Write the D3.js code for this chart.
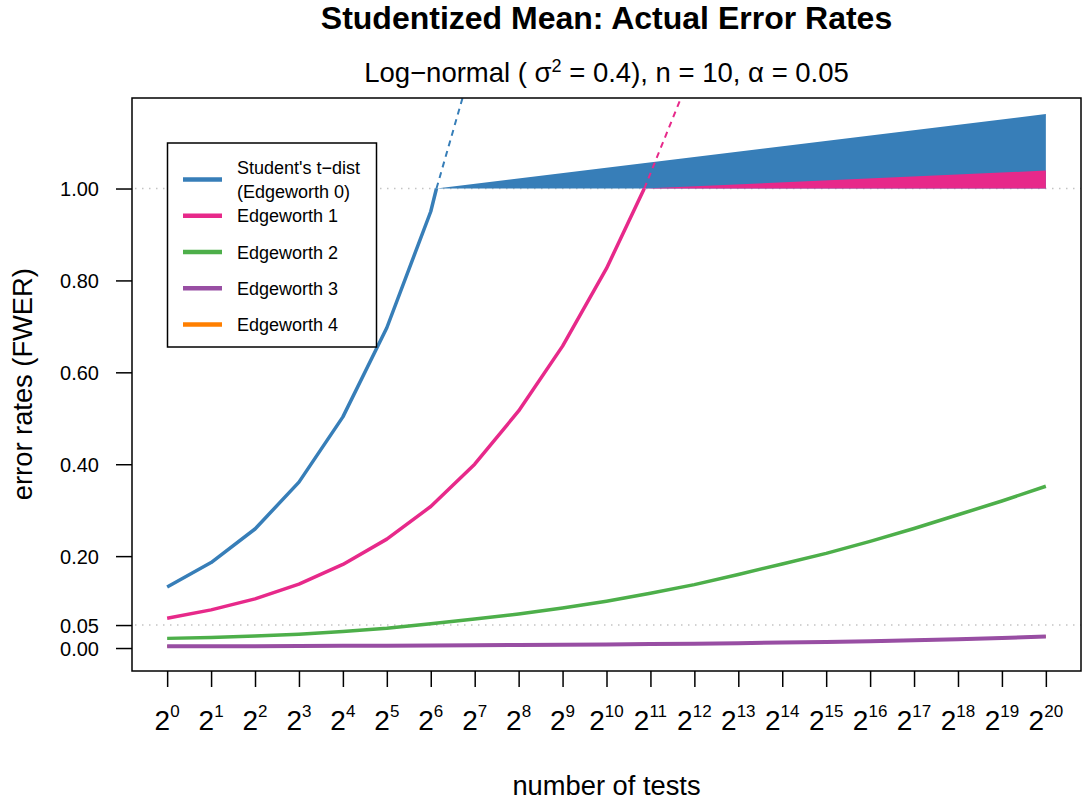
<!DOCTYPE html>
<html lang="en">
<head>
    <meta charset="utf-8">
    <title>Studentized Mean: Actual Error Rates</title>
    <script type="text/javascript" src="https://d3js.org/d3.v7.min.js"></script>
    <style>
        body { margin: 0; background: #fff; }
        text { font-family: "Liberation Sans", Arial, Helvetica, sans-serif; fill: #000; }
    </style>
</head>
<body>
    <div id="chart"></div>

    <script type="text/javascript">
        // exponents k of 2^k on the x axis
        const exponents = d3.range(0, 21);
        const yTicks = [0.00, 0.05, 0.20, 0.40, 0.60, 0.80, 1.00];
        const refLines = [0.05, 1.00];

        // Student's t / Edgeworth 0 (k = 0..6), then crosses 1.0
        const edge0 = [0.133, 0.186, 0.259, 0.361, 0.503, 0.697, 0.950];
        const edge0Cross = 6.13;
        const edge0DashEnd = [7.0, 1.289];
        const edge0BandTop = 1.162;

        // Edgeworth 1 (k = 0..10), then crosses 1.0
        const edge1 = [0.065, 0.083, 0.107, 0.139, 0.182, 0.237, 0.308, 0.400, 0.516, 0.657, 0.826];
        const edge1Cross = 10.86;
        const edge1DashEnd = [12.0, 1.269];
        const edge1BandTop = 1.039;

        const edge2 = [0.021, 0.023, 0.026, 0.030, 0.036, 0.043, 0.053, 0.063, 0.074, 0.087, 0.102,
                       0.119, 0.138, 0.160, 0.183, 0.206, 0.232, 0.260, 0.290, 0.320, 0.352];
        const edge3 = [0.0037, 0.0039, 0.0041, 0.0044, 0.0047, 0.0051, 0.0055, 0.0060, 0.0066, 0.0072, 0.0079,
                       0.0087, 0.0095, 0.0106, 0.0118, 0.0133, 0.0150, 0.0168, 0.0190, 0.0220, 0.0252];
        const edge4 = [0.0037, 0.0039, 0.0041, 0.0044, 0.0047, 0.0051, 0.0055, 0.0060, 0.0066, 0.0072, 0.0079,
                       0.0087, 0.0095, 0.0106, 0.0118, 0.0133, 0.0150, 0.0168, 0.0190, 0.0220, 0.0252];

        const legendLabels = [["Student's t\u2212dist", "(Edgeworth 0)"], ["Edgeworth 1"], ["Edgeworth 2"], ["Edgeworth 3"], ["Edgeworth 4"]];
        const colors = ["#377EB8", "#E7298A", "#4DAF4A", "#984EA3", "#FF7F00"];

        const width = 1083;
        const height = 800;
        const plot = {left: 132, right: 1081, top: 98, bottom: 671};

        const svg = d3.select("#chart")
            .append("svg")
            .attr("width", width)
            .attr("height", height);

        const xScale = d3.scaleLinear()
            .domain([-0.8, 20.8])
            .range([plot.left, plot.right]);
        const yScale = d3.scaleLinear()
            .domain([-0.05, 1.197])
            .range([plot.bottom, plot.top]);

        svg.append("clipPath")
            .attr("id", "clip")
            .append("rect")
                .attr("x", plot.left)
                .attr("y", plot.top)
                .attr("width", plot.right - plot.left)
                .attr("height", plot.bottom - plot.top);

        const g = svg.append("g").attr("clip-path", "url(#clip)");

        // dotted reference lines
        g.selectAll(".ref")
            .data(refLines)
            .enter()
            .append("line")
                .attr("x1", plot.left + 3)
                .attr("x2", plot.right)
                .attr("y1", d => yScale(d))
                .attr("y2", d => yScale(d))
                .attr("stroke", "#c4c4c4")
                .attr("stroke-width", 1.5)
                .attr("stroke-dasharray", "1.5,5.5");

        const line = d3.line()
            .x(d => xScale(d[0]))
            .y(d => yScale(d[1]));

        // bands above 1.0
        const bands = [
            {c: colors[0], pts: [[edge0Cross, 1], [20, edge0BandTop], [20, 1]]},
            {c: colors[1], pts: [[edge1Cross, 1], [20, edge1BandTop], [20, 1]]}
        ];
        g.selectAll(".band")
            .data(bands)
            .enter()
            .append("path")
                .attr("d", d => line(d.pts) + "Z")
                .attr("fill", d => d.c)
                .attr("stroke", "none");

        // dashed extrapolations
        const dashes = [
            {c: colors[0], pts: [[edge0Cross, 1], edge0DashEnd]},
            {c: colors[1], pts: [[edge1Cross, 1], edge1DashEnd]}
        ];
        g.selectAll(".dash")
            .data(dashes)
            .enter()
            .append("path")
                .attr("d", d => line(d.pts))
                .attr("fill", "none")
                .attr("stroke", d => d.c)
                .attr("stroke-width", 2)
                .attr("stroke-dasharray", "6,5");

        // solid series (orange drawn first, hidden beneath purple)
        const series = [
            {c: colors[4], w: 2.5, pts: edge4.map((v, i) => [i, v])},
            {c: colors[3], w: 4, pts: edge3.map((v, i) => [i, v])},
            {c: colors[2], w: 3.5, pts: edge2.map((v, i) => [i, v])},
            {c: colors[1], w: 3.5, pts: edge1.map((v, i) => [i, v]).concat([[edge1Cross, 1]])},
            {c: colors[0], w: 3.5, pts: edge0.map((v, i) => [i, v]).concat([[edge0Cross, 1]])}
        ];
        g.selectAll(".series")
            .data(series)
            .enter()
            .append("path")
                .attr("d", d => line(d.pts))
                .attr("fill", "none")
                .attr("stroke", d => d.c)
                .attr("stroke-width", d => d.w)
                .attr("stroke-linejoin", "round");

        // box
        svg.append("rect")
            .attr("x", plot.left)
            .attr("y", plot.top)
            .attr("width", plot.right - plot.left)
            .attr("height", plot.bottom - plot.top)
            .attr("fill", "none")
            .attr("stroke", "#000")
            .attr("stroke-width", 1.5);

        // axes
        const xAxis = d3.axisBottom(xScale)
            .tickValues(exponents)
            .tickSize(16)
            .tickFormat("");
        const xg = svg.append("g")
            .attr("transform", "translate(0," + plot.bottom + ")")
            .call(xAxis);
        xg.select(".domain").remove();
        xg.selectAll(".tick line").attr("stroke", "#000").attr("stroke-width", 1.5);

        const xLabels = svg.selectAll(".xlab")
            .data(exponents)
            .enter()
            .append("text")
                .attr("x", d => xScale(d))
                .attr("y", 730)
                .attr("text-anchor", "middle")
                .style("font-size", "28px");
        xLabels.append("tspan").text("2");
        xLabels.append("tspan")
            .attr("dy", -13)
            .style("font-size", "17px")
            .text(d => d);

        const yAxis = d3.axisLeft(yScale)
            .tickValues(yTicks)
            .tickSize(16)
            .tickFormat(d3.format(".2f"));
        const yg = svg.append("g")
            .attr("transform", "translate(" + plot.left + ",0)")
            .call(yAxis);
        yg.select(".domain").remove();
        yg.selectAll(".tick line").attr("stroke", "#000").attr("stroke-width", 1.5);
        yg.selectAll(".tick text")
            .attr("x", -33)
            .attr("dy", "0.35em")
            .style("font-size", "20px")
            .style("font-family", "'Liberation Sans', Arial, sans-serif")
            .attr("fill", "#000");

        // titles
        const cx = (plot.left + plot.right) / 2;
        svg.append("text")
            .attr("x", cx)
            .attr("y", 29)
            .attr("text-anchor", "middle")
            .style("font-size", "32px")
            .style("font-weight", "bold")
            .text("Studentized Mean: Actual Error Rates");

        const sub = svg.append("text")
            .attr("x", cx)
            .attr("y", 82)
            .attr("text-anchor", "middle")
            .style("font-size", "27.5px");
        sub.append("tspan").text("Log\u2212normal ( \u03c3");
        sub.append("tspan").attr("dy", -10).style("font-size", "18px").text("2");
        sub.append("tspan").attr("dy", 10).text(" = 0.4), n = 10, \u03b1 = 0.05");

        svg.append("text")
            .attr("x", cx)
            .attr("y", 795)
            .attr("text-anchor", "middle")
            .style("font-size", "27.3px")
            .text("number of tests");

        svg.append("text")
            .attr("transform", "translate(32," + yScale(0.5743) + ") rotate(-90)")
            .attr("text-anchor", "middle")
            .style("font-size", "27.3px")
            .text("error rates (FWER)");

        // legend
        const legend = svg.append("g");
        legend.append("rect")
            .attr("x", 167.5)
            .attr("y", 143)
            .attr("width", 209)
            .attr("height", 204)
            .attr("fill", "#fff")
            .attr("stroke", "#000")
            .attr("stroke-width", 1.5);

        const rowY = [179.5, 215.7, 252, 288.2, 324.4];
        const items = legend.selectAll(".item")
            .data(legendLabels)
            .enter()
            .append("g");
        items.append("line")
            .attr("x1", 183)
            .attr("x2", 222)
            .attr("y1", (d, i) => rowY[i])
            .attr("y2", (d, i) => rowY[i])
            .attr("stroke", (d, i) => colors[i])
            .attr("stroke-width", 4.5);
        items.each(function(d, i) {
            const t = d3.select(this).append("text")
                .attr("x", 237)
                .style("font-size", "18px");
            if (d.length === 2) {
                t.append("tspan").attr("x", 237).attr("y", rowY[i] - 5.5).text(d[0]);
                t.append("tspan").attr("x", 237).attr("y", rowY[i] + 18.5).text(d[1]);
            } else {
                t.attr("y", rowY[i] + 6.5).text(d[0]);
            }
        });
    </script>
</body>
</html>
